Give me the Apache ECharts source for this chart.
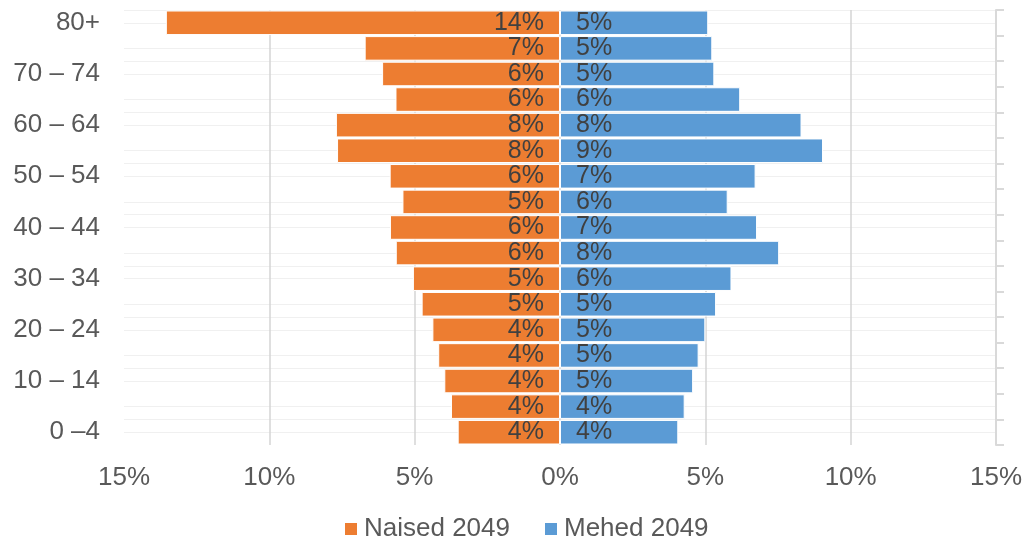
<!DOCTYPE html>
<html>
<head>
<meta charset="utf-8">
<script src="https://cdn.jsdelivr.net/npm/echarts@6/dist/echarts.min.js"></script>
<style>
html,body{margin:0;padding:0;background:#fff;}
#chart{width:1025px;height:544px;}
</style>
</head>
<body>
<div id="chart"></div>
<script>
// Age groups, bottom to top
var ageGroups = ['0 –4', '5 – 9', '10 – 14', '15 – 19', '20 – 24', '25 – 29', '30 – 34', '35 – 39',
  '40 – 44', '45 – 49', '50 – 54', '55 – 59', '60 – 64', '65 – 69', '70 – 74', '75 – 79', '80+'];
// Share of population (%), bottom to top
var naised2049 = [3.52, 3.75, 3.98, 4.19, 4.39, 4.76, 5.06, 5.65, 5.85, 5.42, 5.86, 7.67, 7.71, 5.66, 6.12, 6.72, 13.56];
var mehed2049 = [4.07, 4.29, 4.58, 4.77, 5.00, 5.37, 5.90, 7.54, 6.78, 5.77, 6.73, 9.05, 8.31, 6.20, 5.31, 5.24, 5.10];
var seriesNames = ['Naised 2049', 'Mehed 2049'];
var xTicks = [-15, -10, -5, 0, 5, 10, 15];

var FONT = '"Liberation Sans", Arial, sans-serif';
var chart = echarts.init(document.getElementById('chart'), null, {renderer: 'canvas'});

var option = {
  animation: false,
  backgroundColor: '#ffffff',
  textStyle: {fontFamily: FONT},
  grid: {left: 124, right: 28, top: 10, bottom: 99, containLabel: false},
  legend: {
    data: seriesNames,
    left: 338,
    top: 511,
    itemWidth: 14,
    itemHeight: 14,
    itemGap: 33,
    icon: 'rect',
    textStyle: {fontFamily: FONT, fontSize: 26, color: '#595959', padding: [0, 0, 0, 1]}
  },
  xAxis: {
    type: 'value',
    min: xTicks[0],
    max: xTicks[xTicks.length - 1],
    interval: 5,
    axisLine: {show: false},
    axisTick: {show: false},
    axisLabel: {
      fontFamily: FONT, fontSize: 26, color: '#595959', margin: 20,
      formatter: function (v) { return Math.abs(v) + '%'; }
    },
    splitLine: {
      show: true,
      lineStyle: {color: ['rgba(0,0,0,0)', '#d4d4d4', '#d4d4d4', '#d4d4d4', '#d4d4d4', '#d4d4d4', 'rgba(0,0,0,0)'], width: 1.5}
    }
  },
  yAxis: [
    {
      type: 'category',
      data: ageGroups,
      position: 'left',
      axisLine: {show: false},
      axisTick: {show: false},
      splitLine: {show: false},
      axisLabel: {interval: 1, fontFamily: FONT, fontSize: 26, color: '#595959', margin: 24}
    },
    {
      type: 'value',
      position: 'left',
      min: 0,
      max: ageGroups.length,
      interval: 0.5,
      axisLine: {show: false},
      axisTick: {show: false},
      axisLabel: {show: false},
      splitLine: {show: true, lineStyle: {color: ['rgba(0,0,0,0)', '#f0f0f0', '#f0f0f0', '#f0f0f0'], width: 1}},
      z: 0
    },
    {
      type: 'category',
      data: ageGroups,
      position: 'right',
      axisLine: {show: true, lineStyle: {color: '#d9d9d9', width: 2}},
      axisTick: {show: true, interval: 0, length: 8, lineStyle: {color: '#d9d9d9', width: 2}},
      axisLabel: {show: false},
      splitLine: {show: false}
    }
  ],
  series: [
    {
      name: seriesNames[0],
      type: 'bar',
      yAxisIndex: 0,
      data: naised2049.map(function (v) { return -v; }),
      barGap: '-100%',
      barCategoryGap: '4%',
      itemStyle: {color: '#ED7D31', borderColor: '#ffffff', borderWidth: 1},
      label: {
        show: true, position: 'insideRight', distance: 16,
        fontFamily: FONT, fontSize: 25, color: '#404040',
        formatter: function (p) { return Math.round(Math.abs(p.value)) + '%'; }
      }
    },
    {
      name: seriesNames[1],
      type: 'bar',
      yAxisIndex: 0,
      data: mehed2049,
      barGap: '-100%',
      barCategoryGap: '4%',
      itemStyle: {color: '#5B9BD5', borderColor: '#ffffff', borderWidth: 1},
      label: {
        show: true, position: 'insideLeft', distance: 16,
        fontFamily: FONT, fontSize: 25, color: '#404040',
        formatter: function (p) { return Math.round(Math.abs(p.value)) + '%'; }
      }
    }
  ]
};
chart.setOption(option);
</script>
</body>
</html>
